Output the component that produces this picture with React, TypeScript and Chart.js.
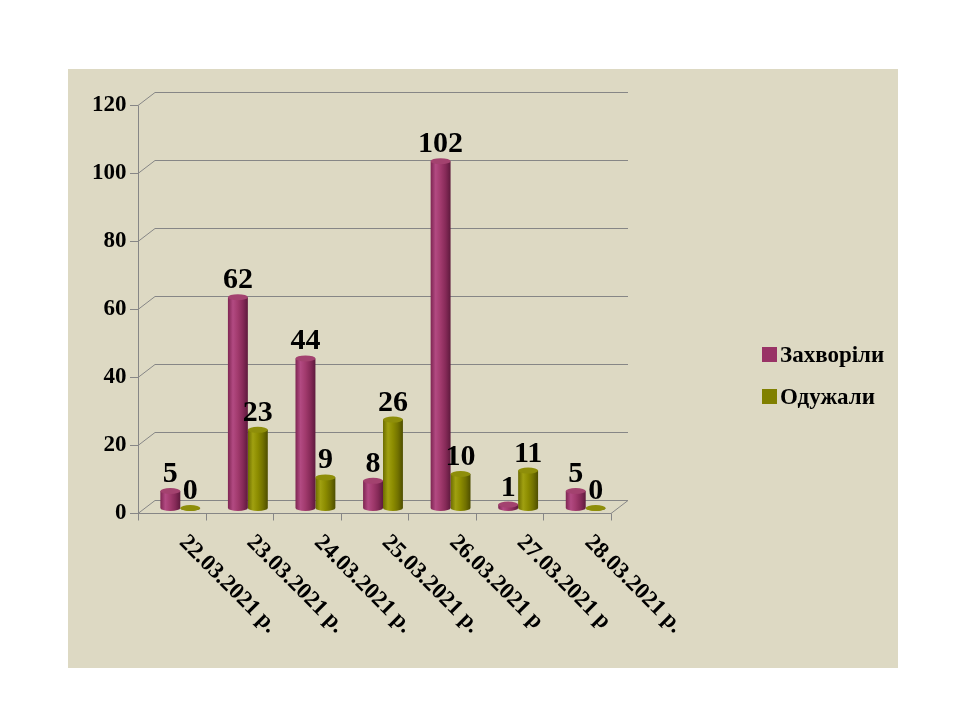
import React, { useEffect, useRef } from "react";
import { Chart, registerables } from "chart.js";

Chart.register(...registerables);

const categories = [
  "22.03.2021 р.",
  "23.03.2021 р.",
  "24.03.2021 р.",
  "25.03.2021 р.",
  "26.03.2021 р",
  "27.03.2021 р",
  "28.03.2021 р.",
];
const seriesNames = ["Захворіли", "Одужали"];
const sick = [5, 62, 44, 8, 102, 1, 5];
const recovered = [0, 23, 9, 26, 10, 11, 0];
const yTicks = [0, 20, 40, 60, 80, 100, 120];

const PINK = "#993366";
const OLIVE = "#808000";
const gradStops: Record<string, string[]> = {
  [PINK]: ["#7e2552", "#b24a82", "#a13a6d", "#862a58", "#5e1a3d"],
  [OLIVE]: ["#6c6c00", "#a0a010", "#8c8c00", "#727200", "#4e4e00"],
};
const capColors: Record<string, string> = { [PINK]: "#a3426f", [OLIVE]: "#8e8e0a" };

const DEPTH_X = 8.5;
const FRONT_DY = 5;
const BACK_DY = -8;
const FONT = "'Liberation Serif', 'Times New Roman', serif";

const cylinderPlugin = {
  id: "cylinder",
  beforeDraw(chart: any) {
    const { ctx, chartArea } = chart;
    const y = chart.scales.y;
    const left = chartArea.left;
    const right = chartArea.right;
    const fl = left - DEPTH_X;
    const fr = right - DEPTH_X;
    const bl = left + DEPTH_X;
    const br = right + DEPTH_X;
    ctx.save();
    ctx.strokeStyle = "#868686";
    ctx.lineWidth = 1;
    yTicks.forEach((v) => {
      const p = y.getPixelForValue(v);
      const fy = Math.round(p + FRONT_DY) + 0.5;
      const by = Math.round(p + BACK_DY) + 0.5;
      ctx.beginPath();
      ctx.moveTo(fl - 8, fy);
      ctx.lineTo(fl, fy);
      ctx.lineTo(bl, by);
      ctx.lineTo(br, by);
      ctx.stroke();
    });
    const p0 = y.getPixelForValue(0);
    const f0 = Math.round(p0 + FRONT_DY) + 0.5;
    const b0 = Math.round(p0 + BACK_DY) + 0.5;
    ctx.beginPath();
    ctx.moveTo(fl, f0);
    ctx.lineTo(fr, f0);
    ctx.lineTo(br, b0);
    ctx.stroke();
    const topF = Math.round(y.getPixelForValue(120) + FRONT_DY) + 0.5;
    ctx.beginPath();
    ctx.moveTo(Math.round(fl) + 0.5, topF);
    ctx.lineTo(Math.round(fl) + 0.5, f0);
    ctx.stroke();
    const n = categories.length;
    const w = (fr - fl) / n;
    for (let i = 0; i <= n; i++) {
      const x = Math.round(fl + i * w) + 0.5;
      ctx.beginPath();
      ctx.moveTo(x, f0);
      ctx.lineTo(x, f0 + 7);
      ctx.stroke();
    }
    ctx.restore();
  },
  beforeDatasetsDraw(chart: any) {
    const { ctx } = chart;
    chart.data.datasets.forEach((ds: any, di: number) => {
      const meta = chart.getDatasetMeta(di);
      const stops = gradStops[ds.baseColor];
      meta.data.forEach((el: any) => {
        const x0 = el.x - el.width / 2;
        const x1 = el.x + el.width / 2;
        const g = ctx.createLinearGradient(x0, 0, x1, 0);
        stops.forEach((c: string, k: number) => g.addColorStop(k / (stops.length - 1), c));
        el.options = Object.assign({}, el.options, { backgroundColor: g });
      });
    });
  },
  afterDatasetsDraw(chart: any) {
    const { ctx } = chart;
    chart.data.datasets.forEach((ds: any, di: number) => {
      const meta = chart.getDatasetMeta(di);
      meta.data.forEach((el: any, i: number) => {
        const rx = el.width / 2;
        const ry = 3;
        const val = ds.data[i];
        ctx.save();
        ctx.fillStyle = el.options.backgroundColor;
        ctx.beginPath();
        ctx.ellipse(el.x, el.base, rx, ry, 0, 0, Math.PI);
        ctx.fill();
        ctx.fillStyle = capColors[ds.baseColor];
        ctx.beginPath();
        ctx.ellipse(el.x, el.y, rx, ry, 0, 0, Math.PI * 2);
        ctx.fill();
        ctx.fillStyle = "#000";
        ctx.font = `bold 30px ${FONT}`;
        ctx.textAlign = "center";
        ctx.textBaseline = "alphabetic";
        ctx.fillText(String(val), el.x, el.y - 9);
        ctx.restore();
      });
    });
  },
  afterDraw(chart: any) {
    const { ctx } = chart;
    const x = chart.scales.x;
    const p0 = chart.scales.y.getPixelForValue(0);
    ctx.save();
    ctx.fillStyle = "#000";
    ctx.font = `bold 23px ${FONT}`;
    ctx.textAlign = "left";
    ctx.textBaseline = "top";
    categories.forEach((c, i) => {
      const cx = x.getPixelForValue(i) - DEPTH_X;
      ctx.save();
      ctx.translate(cx + 19, p0 + 23);
      ctx.rotate(Math.PI / 4);
      ctx.fillText(c, 0, 0);
      ctx.restore();
    });
    ctx.restore();
  },
};

export default function App() {
  const ref = useRef<HTMLCanvasElement | null>(null);
  useEffect(() => {
    if (!ref.current) return;
    const chart = new Chart(ref.current, {
      type: "bar",
      data: {
        labels: categories,
        datasets: [
          { label: seriesNames[0], data: sick, backgroundColor: PINK, baseColor: PINK } as any,
          { label: seriesNames[1], data: recovered, backgroundColor: OLIVE, baseColor: OLIVE } as any,
        ],
      },
      options: {
        animation: false,
        responsive: false,
        maintainAspectRatio: false,
        events: [],
        layout: { padding: { left: 86.5, right: 340.5, top: 100, bottom: 212 } },
        datasets: { bar: { categoryPercentage: 0.59, barPercentage: 1, borderWidth: 0 } },
        plugins: { legend: { display: false }, tooltip: { enabled: false }, title: { display: false } },
        scales: {
          x: { display: false, offset: true },
          y: {
            min: 0,
            max: 120,
            afterFit: (s: any) => {
              s.width = 60;
            },
            grid: { display: false, drawTicks: false },
            border: { display: false },
            ticks: {
              stepSize: 20,
              padding: 20,
              labelOffset: FRONT_DY,
              color: "#000",
              font: { family: FONT, size: 23, weight: "bold" },
            },
          },
        },
      },
      plugins: [cylinderPlugin],
    });
    return () => chart.destroy();
  }, []);

  const legendItems = [
    { name: seriesNames[0], color: PINK, top: 347 },
    { name: seriesNames[1], color: OLIVE, top: 389 },
  ];

  return (
    <div style={{ position: "fixed", left: 0, top: 0, width: 960, height: 720, background: "#fff", overflow: "hidden" }}>
      <div style={{ position: "absolute", left: 68, top: 69, width: 830, height: 599, background: "#DDD9C3" }} />
      <canvas ref={ref} width={960} height={720} style={{ position: "absolute", left: 0, top: 0, width: 960, height: 720 }} />
      {legendItems.map((it) => (
        <div key={it.name} style={{ position: "absolute", left: 762, top: it.top - 6, height: 27, display: "flex", alignItems: "center" }}>
          <div style={{ width: 15, height: 15, background: it.color, marginRight: 3 }} />
          <span style={{ fontFamily: FONT, fontWeight: "bold", fontSize: 23, color: "#000", lineHeight: "27px" }}>{it.name}</span>
        </div>
      ))}
    </div>
  );
}
